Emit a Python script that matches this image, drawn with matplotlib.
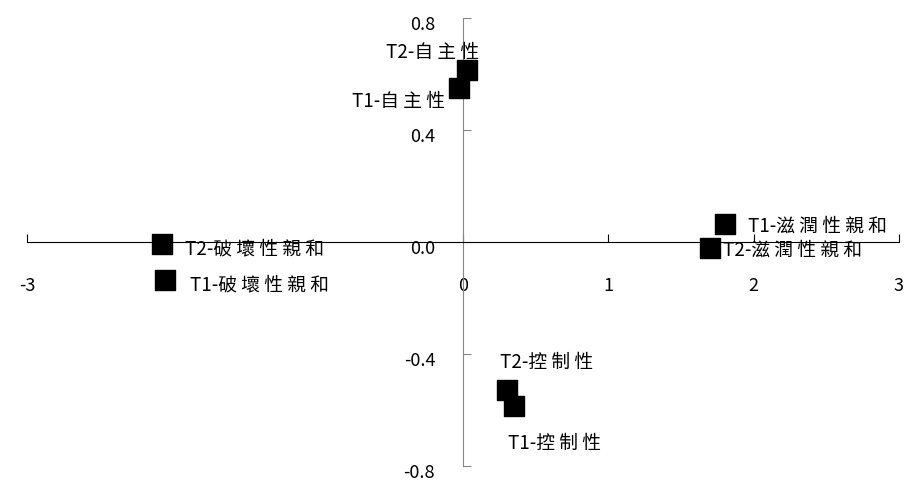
import matplotlib
matplotlib.use("Agg")
import matplotlib.pyplot as plt
import matplotlib.transforms as mtransforms

plt.rcParams['font.family'] = ['Noto Sans CJK TC', 'DejaVu Sans']

# data
labels = ["T2-自 主 性", "T1-自 主 性", "T1-滋 潤 性 親 和", "T2-滋 潤 性 親 和",
          "T2-破 壞 性 親 和", "T1-破 壞 性 親 和", "T2-控 制 性", "T1-控 制 性"]
xs = [0.03, -0.03, 1.80, 1.70, -2.07, -2.05, 0.30, 0.35]
ys = [0.614, 0.55, 0.064, -0.02, -0.007, -0.136, -0.53, -0.586]

# label placement (offset pixels, alignment)
offsets = [(-35, 18, "center"), (-14, -13, "right"), (23, -2, "left"), (13, -3, "left"),
           (23, -5, "left"), (25, -5, "left"), (-7, 28, "left"), (-6, -37, "left")]

xtick_vals = [-3, 0, 1, 2, 3]
ytick_vals = [-0.8, -0.4, 0.0, 0.4, 0.8]

fig = plt.figure(figsize=(9.14, 4.83), dpi=100)
ax = fig.add_axes([27/914, 17/483, 872/914, 448/483])
ax.set_xlim(-3, 3)
ax.set_ylim(-0.8, 0.8)

ax.spines['left'].set_position(('data', 0))
ax.spines['bottom'].set_position(('data', 0))
ax.spines['right'].set_visible(False)
ax.spines['top'].set_visible(False)
ax.spines['left'].set_color('#868686')
ax.spines['bottom'].set_color('black')

ax.set_xticks(xtick_vals)
ax.set_xticklabels([str(v) for v in xtick_vals])
ax.set_yticks(ytick_vals)
ax.set_yticklabels(["%.1f" % v for v in ytick_vals])
ax.tick_params(axis='x', direction='in', length=6, pad=25, labelsize=13, color='black')
ax.tick_params(axis='y', direction='in', length=6, pad=20, labelsize=13, color='#868686')

off = mtransforms.ScaledTranslation(0, -5/100, fig.dpi_scale_trans)
for t in ax.get_yticklabels():
    t.set_transform(t.get_transform() + off)

ax.scatter(xs, ys, marker='s', s=190, color='black', zorder=4, clip_on=False)

for x, y, lab, (dx, dy, ha) in zip(xs, ys, labels, offsets):
    ax.annotate(lab, (x, y), xytext=(dx, dy), textcoords='offset pixels',
                ha=ha, va='center', fontsize=13.5, zorder=5)

fig.savefig("out.png", dpi=100)
